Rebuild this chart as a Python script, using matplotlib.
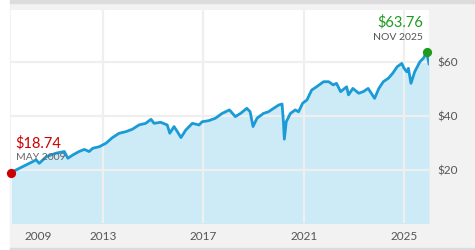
import matplotlib
matplotlib.use("Agg")
import matplotlib.pyplot as plt
import pandas as pd
from matplotlib.patches import Rectangle

# price history
dates = [
    "2009-05-08", "2009-07-15", "2009-12-10", "2010-03-15", "2010-05-05", "2010-06-20",
    "2010-10-01", "2011-02-20", "2011-06-20", "2011-08-10", "2011-10-20", "2012-01-20",
    "2012-04-05", "2012-06-15", "2012-08-05", "2012-11-10", "2013-02-15", "2013-05-20",
    "2013-08-25", "2013-12-01", "2014-03-05", "2014-06-10", "2014-09-15", "2014-12-01",
    "2015-01-15", "2015-04-20", "2015-07-25", "2015-09-01", "2015-11-01", "2015-12-20",
    "2016-02-10", "2016-04-20", "2016-07-25", "2016-10-30", "2016-12-15", "2017-03-20",
    "2017-06-25", "2017-10-01", "2018-01-15", "2018-02-08", "2018-04-10", "2018-06-25",
    "2018-09-25", "2018-11-12", "2018-12-24", "2019-02-20", "2019-05-25", "2019-08-05",
    "2019-10-20", "2019-12-31", "2020-02-19", "2020-03-10", "2020-03-23", "2020-04-20",
    "2020-06-20", "2020-08-30", "2020-10-15", "2020-12-15", "2021-02-15", "2021-04-25",
    "2021-07-05", "2021-10-15", "2021-12-28", "2022-03-05", "2022-04-20", "2022-06-20",
    "2022-09-15", "2022-10-12", "2022-12-15", "2023-03-10", "2023-05-15", "2023-07-25",
    "2023-10-27", "2023-12-28", "2024-03-01", "2024-05-15", "2024-07-15", "2024-09-20",
    "2024-11-25", "2024-12-28", "2025-02-05", "2025-03-01", "2025-04-08", "2025-06-01",
    "2025-08-15", "2025-10-05", "2025-11-20", "2025-12-26",
]
prices = [
    18.74, 19.9, 21.8, 23.0, 23.7, 22.4,
    24.9, 26.2, 26.8, 24.3, 25.5, 26.8,
    27.6, 26.8, 28.0, 28.6, 29.9, 32.0,
    33.6, 34.2, 35.1, 36.7, 37.3, 38.8,
    37.3, 37.7, 36.7, 33.6, 36.1, 34.2,
    32.0, 34.8, 37.3, 36.7, 37.9, 38.3,
    39.2, 41.0, 42.3, 41.6, 39.8, 41.0,
    42.9, 41.6, 36.1, 39.2, 41.0, 41.6,
    42.9, 44.1, 44.5, 37.9, 31.4, 37.9,
    41.0, 42.3, 41.6, 44.8, 46.0, 49.7,
    50.9, 52.8, 52.8, 51.6, 52.2, 49.1,
    50.9, 47.9, 50.3, 48.5, 49.1, 50.3,
    46.6, 50.3, 52.8, 54.1, 55.9, 58.4,
    59.6, 57.8, 56.5, 57.8, 52.2, 56.5,
    60.2, 61.5, 63.76, 59.5,
]

year_ticks = ["2010-06-01", "2013-01-01", "2017-01-01", "2021-01-01", "2025-01-01"]
year_labels = ["2009", "2013", "2017", "2021", "2025"]
grid_years = ["2013-01-01", "2017-01-01", "2021-01-01", "2025-01-01"]
price_ticks = [20, 40, 60]
price_labels = ["$20", "$40", "$60"]

low_label = ("$18.74", "MAY 2009")
high_label = ("$63.76", "NOV 2025")

x = pd.to_datetime(dates)
plt.rcParams["font.family"] = ["Lato", "DejaVu Sans"]

line_col = "#1a9bd7"
fill_col = "#cdeaf7"
grid_col = "#efefef"
panel_col = "#f2f2f2"

fig = plt.figure(figsize=(4.75, 2.5), dpi=100, facecolor="white")
W, H = 475, 250
# grey panel behind the chart
for (y0, h, c) in [(0, 1, panel_col), (1 - 2.5 / H, 2.5 / H, "#dcdcdc"), (0, 2.5 / H, "#dcdcdc")]:
    fig.patches.append(Rectangle((10 / W, y0), 1, h, transform=fig.transFigure,
                                 color=c, zorder=-10))

ax = fig.add_axes([10.7 / W, (H - 222.7) / H, (429 - 10.7) / W, (222.7 - 10) / H])
ax.set_zorder(5)
ax.set_facecolor("white")
for s in ax.spines.values():
    s.set_visible(False)

ax.fill_between(x, prices, 0, color=fill_col, lw=0, zorder=1)
for v in price_ticks:
    ax.axhline(v, color=grid_col, lw=1.6, zorder=2)
for d in grid_years:
    ax.axvline(pd.Timestamp(d), color=grid_col, lw=1.6, zorder=2)
ax.plot(x, prices, color=line_col, lw=2.0, zorder=3, solid_joinstyle="round")

ax.set_xlim(pd.Timestamp("2009-05-01"), x[-1])
ax.set_ylim(0.3, 79.5)

ax.set_xticks(pd.to_datetime(year_ticks))
ax.set_xticklabels(year_labels)
ax.yaxis.tick_right()
ax.set_yticks(price_ticks)
ax.set_yticklabels(price_labels)
ax.tick_params(axis="both", length=0, labelsize=8.5, labelcolor="#555555")
ax.tick_params(axis="x", pad=6)
ax.tick_params(axis="y", pad=6)

# low / high markers
i_lo = prices.index(min(prices[:3]))
i_hi = prices.index(max(prices))
ax.plot(x[i_lo], prices[i_lo], "o", color="#cc0000", ms=5.6, zorder=5, clip_on=False)
ax.plot(x[i_hi], prices[i_hi], "o", color="#1f9a1f", ms=5.6, zorder=5, clip_on=False)

ax.annotate(low_label[0], (x[i_lo], prices[i_lo]), xytext=(3, 18.6),
            textcoords="offset points", ha="left", va="baseline",
            fontsize=10.5, color="#cc0000", zorder=6)
ax.annotate(low_label[1], (x[i_lo], prices[i_lo]), xytext=(3.3, 9.3),
            textcoords="offset points", ha="left", va="baseline",
            fontsize=7.5, color="#666666", zorder=6)
ax.annotate(high_label[0], (x[i_hi], prices[i_hi]), xytext=(-2.7, 18.2),
            textcoords="offset points", ha="right", va="baseline",
            fontsize=10.5, color="#1f9a1f", zorder=6)
ax.annotate(high_label[1], (x[i_hi], prices[i_hi]), xytext=(-2.7, 9.0),
            textcoords="offset points", ha="right", va="baseline",
            fontsize=7.5, color="#555555", zorder=6)

plt.savefig("out.png", dpi=100, facecolor=fig.get_facecolor())
